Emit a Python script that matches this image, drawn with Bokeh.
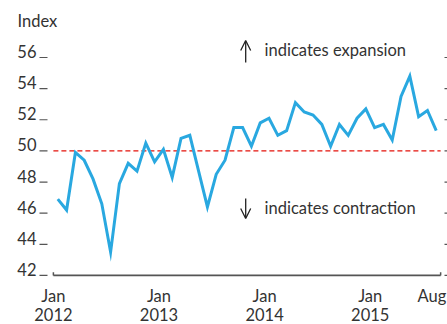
from bokeh.plotting import figure
from bokeh.models import Range1d, Label, Arrow, OpenHead
from bokeh.embed import file_html
from bokeh.resources import INLINE

# Monthly purchasing managers' index, Jan 2012 - Aug 2015
pmi = [46.9, 46.2, 49.9, 49.4, 48.2, 46.6, 43.5, 47.9, 49.2, 48.7, 50.5, 49.3,
       50.1, 48.3, 50.8, 51.0, 48.7, 46.4, 48.5, 49.4, 51.5, 51.5, 50.3, 51.8,
       52.1, 51.0, 51.3, 53.1, 52.5, 52.3, 51.7, 50.3, 51.7, 51.0, 52.1, 52.7,
       51.5, 51.7, 50.7, 53.5, 54.8, 52.2, 52.6, 51.3]
# months since Jan 2012; each reading sits mid-month
month_pos = [i + 0.5 for i in range(len(pmi))]

y_ticks = [42, 44, 46, 48, 50, 52, 54, 56]
y_tick_labels = [str(v) for v in y_ticks]
x_ticks = [0, 12, 24, 36, 43]
x_tick_months = ["Jan", "Jan", "Jan", "Jan", "Aug"]
x_tick_years = ["2012", "2013", "2014", "2015", ""]
axis_span = [0, 44]
threshold = 50

FONT = "Lato"
FS = "16.5px"
INK = "#333333"
GREY = "#555555"

# the plot frame fills the whole canvas; axes are drawn in data space
X0, X1 = -6.01, 44.78
Y0, Y1 = 38.85, 59.66
Y_BASE = y_ticks[0]

p = figure(width=447, height=324, output_backend="svg", toolbar_location=None,
           x_range=Range1d(X0, X1), y_range=Range1d(Y0, Y1),
           x_axis_location=None, y_axis_location=None,
           min_border=0, min_border_left=0, min_border_right=0,
           min_border_top=0, min_border_bottom=0)
p.outline_line_color = None
p.grid.visible = False

# left tick marks and labels (labels sit on their ticks)
n = len(y_ticks)
p.segment(x0=[-1.58] * n, x1=[-0.67] * n, y0=y_ticks, y1=y_ticks,
          line_color=GREY, line_width=1.2)
p.text(x=[-0.67] * n, y=y_ticks, text=y_tick_labels, x_offset=-11, y_offset=-6,
       text_align="right", text_baseline="alphabetic",
       text_font={"value": FONT}, text_font_size=FS, text_color=INK)

# right-hand tick marks
p.segment(x0=[44.44] * n, x1=[X1] * n, y0=y_ticks, y1=y_ticks,
          line_color=GREY, line_width=1.2)

# baseline with small upturned ends
p.segment(x0=[axis_span[0]], y0=[Y_BASE], x1=[axis_span[1]], y1=[Y_BASE],
          line_color=GREY, line_width=1.8)
p.segment(x0=axis_span, y0=[Y_BASE, Y_BASE], x1=axis_span,
          y1=[Y_BASE + 0.2, Y_BASE + 0.2], line_color=GREY, line_width=1.5)

# x tick labels: month row and year row
m = len(x_ticks)
p.text(x=x_ticks, y=[Y_BASE] * m, text=x_tick_months, y_offset=20.5,
       text_align="center", text_baseline="alphabetic",
       text_font={"value": FONT}, text_font_size=FS, text_color=INK)
p.text(x=x_ticks, y=[Y_BASE] * m, text=x_tick_years, y_offset=39.5,
       text_align="center", text_baseline="alphabetic",
       text_font={"value": FONT}, text_font_size=FS, text_color=INK)

# 50 = no change
p.segment(x0=[axis_span[0]], y0=[threshold], x1=[axis_span[1]], y1=[threshold],
          line_color="#e3120b", line_width=1.3, line_dash="5 3")

p.line(month_pos, pmi, line_color="#29a8e0", line_width=3, line_join="miter")

p.add_layout(Label(x=-4.08, y=58.32, text="Index", text_align="left",
                   text_baseline="alphabetic", text_font=FONT,
                   text_font_size=FS, text_color=INK))

p.add_layout(Label(x=24.0, y=56.51, text="indicates expansion", text_align="left",
                   text_baseline="alphabetic", text_font=FONT,
                   text_font_size=FS, text_color=INK))
p.add_layout(Label(x=24.0, y=46.31, text="indicates contraction", text_align="left",
                   text_baseline="alphabetic", text_font=FONT,
                   text_font_size=FS, text_color=INK))

p.add_layout(Arrow(end=OpenHead(size=10, line_width=1.3, line_color="#222222"),
                   x_start=21.85, y_start=55.68, x_end=21.85, y_end=57.09,
                   line_width=1.3, line_color="#222222"))
p.add_layout(Arrow(end=OpenHead(size=10, line_width=1.3, line_color="#222222"),
                   x_start=21.85, y_start=46.95, x_end=21.85, y_end=45.66,
                   line_width=1.3, line_color="#222222"))

open("out.html", "w").write(file_html(p, INLINE))
